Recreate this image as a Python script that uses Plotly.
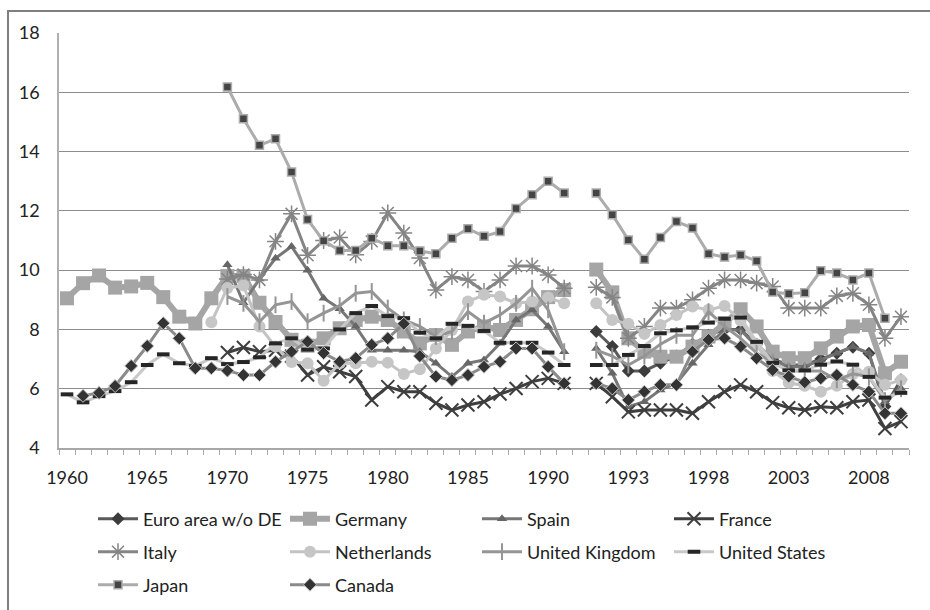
import plotly.graph_objects as go

# Category axis: West Germany era 1960-1991, a blank slot, then unified era 1991-2010
years_west = list(range(1960, 1992))
years_unified = list(range(1991, 2011))
categories = [str(y) for y in years_west] + [""] + [str(y) for y in years_unified]
tick_labels = ["1960", "1965", "1970", "1975", "1980", "1985", "1990", "1993", "1998", "2003", "2008"]

N = None
# Values 1960-1991
euro_west = [N] * 32
germany_west = [9.05, 9.56, 9.82, 9.41, 9.45, 9.57, 9.09, 8.43, 8.2, 9.05, 9.8, 9.8, 8.9, 8.25, 7.65, 7.45,
                7.7, 8.04, 8.32, 8.43, 8.32, 7.93, 7.53, 7.81, 7.48, 7.93, 8.1, 7.98, 8.32, 8.68, 9.09, 9.33]
spain_west = [N] * 10 + [10.18, 8.9, 9.7, 10.4, 10.8, 10.0, 9.05, 8.7, 8.1, 7.3, 7.3, 7.3, 7.25, 6.86, 6.41,
                         6.86, 6.97, 7.53, 8.32, 8.66, 8.1, 7.25]
france_west = [N] * 10 + [7.22, 7.39, 7.25, 7.3, 7.1, 6.46, 6.74, 6.57, 6.41, 5.62, 6.07, 5.9, 5.9, 5.51, 5.28,
                          5.45, 5.56, 5.82, 6.01, 6.24, 6.35, 6.18]
italy_west = [N] * 10 + [9.7, 9.85, 9.67, 10.97, 11.9, 10.5, 11.0, 11.1, 10.52, 10.97, 11.93, 11.25, 10.41, 9.33,
                         9.78, 9.67, 9.28, 9.67, 10.14, 10.14, 9.84, 9.39]
netherlands_west = [N] * 9 + [8.24, 9.4, 9.48, 8.1, 7.42, 6.9, 6.86, 6.27, 6.86, 6.86, 6.91, 6.88, 6.5, 6.66, 7.36,
                              7.98, 8.94, 9.17, 9.11, 8.88, 8.94, 9.08, 8.88]
uk_west = [N] * 10 + [9.11, 8.88, 8.26, 8.83, 8.94, 8.26, 8.55, 8.8, 9.22, 9.28, 8.72, 8.32, 8.1, 7.76, 7.93,
                      8.6, 8.21, 8.49, 8.88, 9.39, 8.66, 7.25]
us_west = [5.81, 5.54, 5.75, 5.92, 6.22, 6.8, 7.16, 6.86, 6.77, 7.03, 6.83, 6.9, 7.06, 7.53, 7.7, 7.32, 7.36,
           8.0, 8.55, 8.79, 8.45, 8.38, 7.89, 7.7, 8.19, 8.12, 7.95, 7.55, 7.55, 7.55, 7.22, 6.8]
japan_west = [N] * 10 + [16.18, 15.11, 14.21, 14.43, 13.31, 11.71, 10.99, 10.66, 10.66, 11.08, 10.82, 10.82,
                         10.65, 10.55, 11.08, 11.4, 11.14, 11.3, 12.08, 12.54, 13.0, 12.6]
canada_west = [N, 5.76, 5.86, 6.09, 6.77, 7.44, 8.21, 7.7, 6.69, 6.69, 6.61, 6.46, 6.46, 6.91, 7.25, 7.59, 7.2,
               6.91, 7.03, 7.48, 7.7, 8.19, 7.1, 6.41, 6.29, 6.46, 6.74, 6.91, 7.36, 7.36, 6.74, 6.18]

# Values 1991-2010
euro_unified = [7.93, 7.42, 6.6, 6.6, 6.86, 7.1, 7.5, 7.8, 8.0, 8.0, 7.5, 7.0, 6.8, 6.8, 7.0, 7.2, 7.4, 7.2, 5.4, 6.3]
germany_unified = [10.02, 9.25, 7.7, 7.25, 7.08, 7.08, 7.42, 7.76, 8.21, 8.68, 8.1, 7.25, 7.03, 7.03, 7.36, 7.76,
                   8.1, 8.15, 6.52, 6.91]
spain_unified = [7.36, 6.52, 5.39, 5.56, 5.96, 6.18, 6.86, 7.48, 7.98, 7.98, 7.42, 6.97, 6.74, 6.74, 6.97, 7.2,
                 7.42, 7.2, 5.56, 6.01]
france_unified = [6.18, 5.73, 5.22, 5.28, 5.28, 5.28, 5.17, 5.56, 5.9, 6.13, 5.9, 5.53, 5.36, 5.28, 5.39, 5.36,
                  5.56, 5.62, 4.66, 4.89]
italy_unified = [9.42, 9.08, 7.7, 8.1, 8.72, 8.72, 9.0, 9.39, 9.67, 9.67, 9.56, 9.45, 8.72, 8.72, 8.72, 9.13,
                 9.22, 8.83, 7.7, 8.43]
netherlands_unified = [8.88, 8.32, 8.19, 7.85, 8.15, 8.49, 8.77, 8.66, 8.79, 8.3, 7.5, 6.6, 6.2, 6.1, 5.9, 6.1,
                       6.5, 6.57, 6.13, 6.29]
uk_unified = [7.3, 7.1, 6.8, 7.1, 7.5, 7.8, 7.8, 8.6, 8.1, 7.7, 7.2, 6.9, 6.6, 6.6, 6.6, 6.3, 6.5, 6.4, 5.6, 6.0]
us_unified = [6.8, 6.8, 7.14, 7.44, 7.87, 7.97, 8.07, 8.23, 8.36, 8.4, 7.58, 6.87, 6.62, 6.62, 6.81, 6.92, 6.81,
              6.4, 5.7, 5.86]
japan_unified = [12.6, 11.87, 11.02, 10.37, 11.1, 11.64, 11.42, 10.55, 10.44, 10.51, 10.31, 9.26, 9.2, 9.24,
                 9.98, 9.9, 9.67, 9.9, 8.38, N]
canada_unified = [6.18, 6.01, 5.62, 5.9, 6.13, 6.13, 7.25, 7.65, 7.7, 7.42, 7.03, 6.63, 6.41, 6.22, 6.35, 6.46,
                  6.13, 5.9, 5.17, 5.17]

series_names = ["Euro area w/o DE", "Germany", "Spain", "France", "Italy", "Netherlands",
                "United Kingdom", "United States", "Japan", "Canada"]
series_values = [
    (euro_west, euro_unified), (germany_west, germany_unified), (spain_west, spain_unified),
    (france_west, france_unified), (italy_west, italy_unified), (netherlands_west, netherlands_unified),
    (uk_west, uk_unified), (us_west, us_unified), (japan_west, japan_unified), (canada_west, canada_unified),
]

# line and marker style of each series
styles = [
    dict(line=dict(color="#5a5a5a", width=3),
         marker=dict(symbol="diamond", size=10, color="#3c3c3c")),
    dict(line=dict(color="#a5a5a5", width=6),
         marker=dict(symbol="square", size=14, color="#a5a5a5")),
    dict(line=dict(color="#777777", width=3),
         marker=dict(symbol="triangle-up", size=9, color="#666666")),
    dict(line=dict(color="#3f3f3f", width=3),
         marker=dict(symbol="x-thin-open", size=13, color="#3f3f3f", line=dict(width=2, color="#3f3f3f"))),
    dict(line=dict(color="#858585", width=3),
         marker=dict(symbol="asterisk-open", size=14, color="#858585", line=dict(width=1.5, color="#858585"))),
    dict(line=dict(color="#c3c3c3", width=3),
         marker=dict(symbol="circle", size=12, color="#c6c6c6")),
    dict(line=dict(color="#959595", width=3),
         marker=dict(symbol="line-ns-open", size=12, color="#959595", line=dict(width=2, color="#959595"))),
    dict(line=dict(color="#c8c8c8", width=3),
         marker=dict(symbol="line-ew-open", size=9, color="#262626", line=dict(width=4, color="#262626"))),
    dict(line=dict(color="#acacac", width=3),
         marker=dict(symbol="square", size=8, color="#444444", line=dict(width=1.5, color="#acacac"))),
    dict(line=dict(color="#8a8a8a", width=3),
         marker=dict(symbol="diamond", size=10, color="#333333", line=dict(width=1, color="#c4c4c4"))),
]

x_idx = list(range(len(categories)))
legend_ids = ["legend", "legend", "legend", "legend",
              "legend2", "legend2", "legend2", "legend2",
              "legend3", "legend3"]

fig = go.Figure()
for name, (west, unified), st, lg in zip(series_names, series_values, styles, legend_ids):
    y = list(west) + [None] + list(unified)
    fig.add_trace(go.Scatter(x=x_idx, y=y, name=name, mode="lines+markers",
                             line=st["line"], marker=st["marker"], connectgaps=False,
                             legend=lg))

font_family = "Lato, 'Open Sans', sans-serif"
# labelled categories: every fifth slot, the ones after the break taken from the unified block
tick_positions = list(range(0, 31, 5)) + [categories.index(t, 33) for t in tick_labels[7:]]

fig.update_layout(
    width=930, height=610,
    margin=dict(l=59, r=21, t=33, b=162, autoexpand=False),
    paper_bgcolor="white", plot_bgcolor="white",
    font=dict(family=font_family, size=18, color="#222222"),
    showlegend=True,
    xaxis=dict(
        range=[-0.5, len(categories) - 0.5],
        tickmode="array", tickvals=tick_positions, ticktext=tick_labels,
        ticks="", showgrid=False, zeroline=False,
        showline=True, linecolor="#a8a8a8", linewidth=1.5,
        ticklabelstandoff=13,
        minor=dict(tickmode="linear", tick0=-0.5, dtick=1, ticks="outside", ticklen=5,
                   tickcolor="#a8a8a8", tickwidth=1, showgrid=False),
        tickfont=dict(size=18),
    ),
    yaxis=dict(
        range=[4, 18], dtick=2, tick0=4,
        showgrid=True, gridcolor="#8c8c8c", gridwidth=1,
        zeroline=False, showline=True, linecolor="#b0b0b0", linewidth=1.5,
        ticks="", ticklabelstandoff=14, tickfont=dict(size=18),
    ),
)

legend_common = dict(orientation="h", xanchor="left", yanchor="middle",
                     entrywidth=137, entrywidthmode="pixels", itemwidth=40,
                     font=dict(family=font_family, size=18, color="#222222"),
                     bgcolor="rgba(0,0,0,0)", traceorder="normal", tracegroupgap=0)
plot_h = 610 - 33 - 162


def ypaper(py):
    return (610 - 162 - py) / plot_h


x_leg = (93 - 59) / 850
fig.update_layout(
    legend=dict(x=x_leg, y=ypaper(519), **legend_common),
    legend2=dict(x=x_leg, y=ypaper(552), **legend_common),
    legend3=dict(x=x_leg, y=ypaper(585), **legend_common),
)

# outer chart frame
fig.add_shape(type="rect", xref="paper", yref="paper",
              x0=(8 - 59) / 850, x1=(940 - 59) / 850,
              y0=ypaper(620), y1=ypaper(11),
              line=dict(color="#7f7f7f", width=2), fillcolor="rgba(0,0,0,0)", layer="below")

fig.write_html("out.html")
